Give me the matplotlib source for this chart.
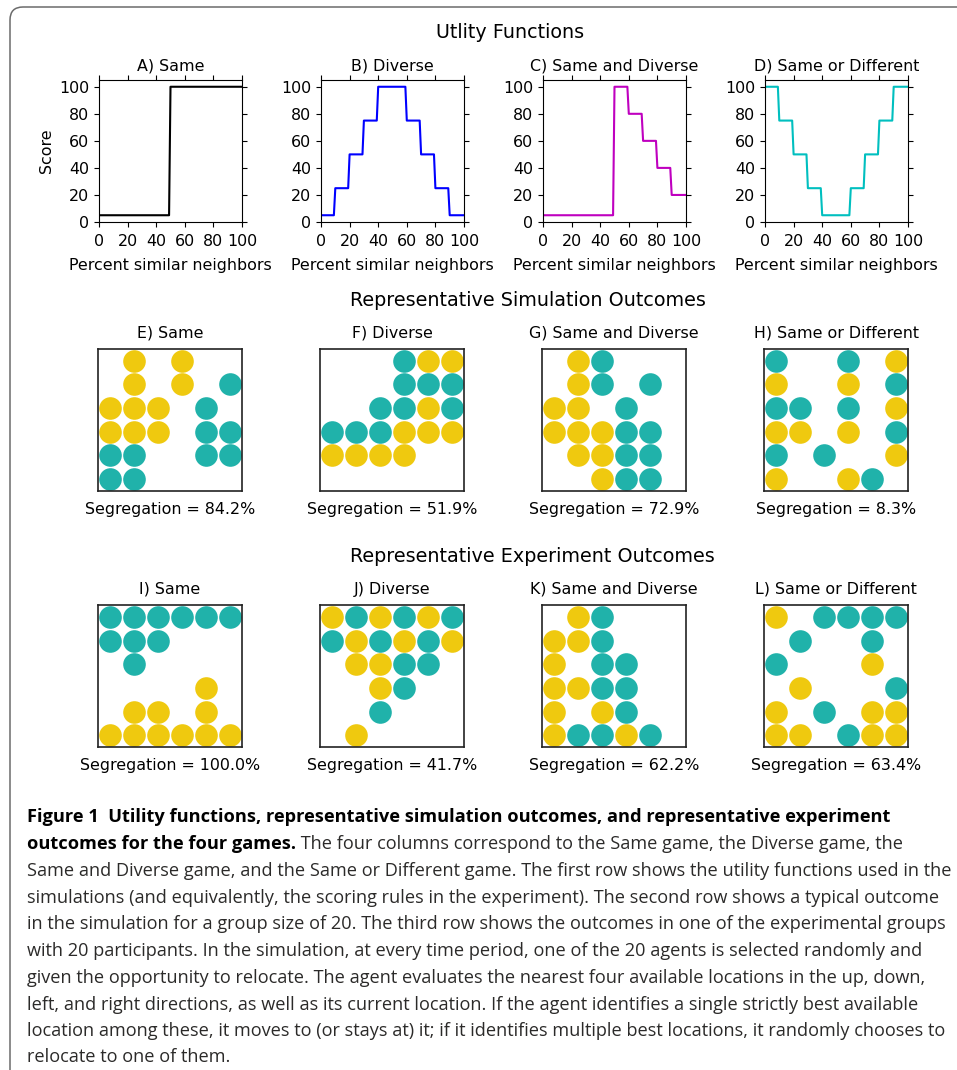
import matplotlib
matplotlib.use("Agg")
import matplotlib.pyplot as plt
from matplotlib.patches import FancyBboxPatch

x_same = [0, 49, 50, 100]
y_same = [5, 5, 100, 100]
x_diverse = [0, 9, 10, 19, 20, 29, 30, 39, 40, 59, 60, 69, 70, 79, 80, 89, 90, 100]
y_diverse = [5, 5, 25, 25, 50, 50, 75, 75, 100, 100, 75, 75, 50, 50, 25, 25, 5, 5]
x_same_div = [0, 49, 50, 59, 60, 69, 70, 79, 80, 89, 90, 100]
y_same_div = [5, 5, 100, 100, 80, 80, 60, 60, 40, 40, 20, 20]
x_same_diff = [0, 9, 10, 19, 20, 29, 30, 39, 40, 59, 60, 69, 70, 79, 80, 89, 90, 100]
y_same_diff = [100, 100, 75, 75, 50, 50, 25, 25, 5, 5, 25, 25, 50, 50, 75, 75, 100, 100]

util_titles = ["A) Same", "B) Diverse", "C) Same and Diverse", "D) Same or Different"]
util_colors = ["k", "b", "m", "c"]

# boards, top row first: Y = yellow, T = teal, . = empty
sim_titles = ["E) Same", "F) Diverse", "G) Same and Diverse", "H) Same or Different"]
sim_boards = [
    [".Y.Y..", ".Y.Y.T", "YYY.T.", "YYY.TT", "TT..TT", "TT...."],
    ["...TYY", "...TTT", "..TTYT", "TTTYYY", "YYYY..", "......"],
    [".YT...", ".YT.T.", "YY.T..", "YYYTT.", ".YYTT.", "..YTT."],
    ["T..T.Y", "Y..Y.T", "TT.T.Y", "YY.Y.T", "T.T..Y", "Y..YT."],
]
sim_seg = [84.2, 51.9, 72.9, 8.3]

exp_titles = ["I) Same", "J) Diverse", "K) Same and Diverse", "L) Same or Different"]
exp_boards = [
    ["TTTTTT", "TTT...", ".T....", "....Y.", ".YY.Y.", "YYYYYY"],
    ["YTYTYT", "TYTYTY", ".YYTT.", "..YT..", "..T...", ".Y...."],
    [".YT...", "YYT...", "Y.TT..", "YYTT..", "Y.YT..", "YTTYT."],
    ["Y.TTTT", ".T..T.", "T...Y.", ".Y...T", "Y.T.YY", "YY.TYY"],
]
exp_seg = [100.0, 41.7, 62.2, 63.4]

YELLOW = "#efc90f"
TEAL = "#20b2aa"

W, H = 957, 1070
plt.rcParams["font.family"] = ["DejaVu Sans"]
plt.rcParams["font.size"] = 10
fig = plt.figure(figsize=(W / 100, H / 100), dpi=100)
FS = 11.4
HEAD = 13.8


def px_axes(left, top, width, height):
    return fig.add_axes([left / W, 1 - (top + height) / H, width / W, height / H])


col_left = [99, 321, 543, 765]

# row 1: utility functions
util_x = [x_same, x_diverse, x_same_div, x_same_diff]
util_y = [y_same, y_diverse, y_same_div, y_same_diff]
for i in range(4):
    ax = px_axes(col_left[i], 80, 143, 142)
    ax.plot(util_x[i], util_y[i], color=util_colors[i], lw=1.5)
    ax.set_xlim(0, 100)
    ax.set_ylim(0, 105)
    ax.set_xticks([0, 20, 40, 60, 80, 100])
    ax.set_yticks([0, 20, 40, 60, 80, 100])
    ax.tick_params(top=True, right=True, labelsize=FS)
    ax.tick_params(axis="x", pad=5.5)
    ax.set_title(util_titles[i], fontsize=FS, pad=7)
    ax.set_xlabel("Percent similar neighbors", fontsize=FS, labelpad=6)
    if i == 0:
        ax.set_ylabel("Score", fontsize=FS)


def draw_board(ax, board):
    for color_key, color in (("Y", YELLOW), ("T", TEAL)):
        xs, ys = [], []
        for r, row in enumerate(board):
            for c, ch in enumerate(row):
                if ch == color_key:
                    xs.append(c)
                    ys.append(5 - r)
        ax.scatter(xs, ys, s=265, color=color, linewidths=0)
    ax.set_xlim(-0.5, 5.5)
    ax.set_ylim(-0.5, 5.5)
    ax.set_xticks([])
    ax.set_yticks([])
    for sp in ax.spines.values():
        sp.set_linewidth(1.2)
        sp.set_color("#222222")


for i in range(4):
    ax = px_axes(col_left[i] - 1, 349, 144, 142)
    draw_board(ax, sim_boards[i])
    ax.set_title(sim_titles[i], fontsize=FS, pad=8)
    ax.set_xlabel(f"Segregation = {sim_seg[i]:.1f}%", fontsize=FS, labelpad=8)

    ax = px_axes(col_left[i] - 1, 605, 144, 142)
    draw_board(ax, exp_boards[i])
    ax.set_title(exp_titles[i], fontsize=FS, pad=8)
    ax.set_xlabel(f"Segregation = {exp_seg[i]:.1f}%", fontsize=FS, labelpad=8)

fig.text(510 / W, 1 - 32 / H, "Utlity Functions", ha="center", va="center", fontsize=HEAD)
fig.text(528 / W, 1 - 300 / H, "Representative Simulation Outcomes", ha="center", va="center", fontsize=HEAD)
fig.text(532 / W, 1 - 556 / H, "Representative Experiment Outcomes", ha="center", va="center", fontsize=HEAD)

# caption
cap_font = "Open Sans"
cap_size = 13.1
cap_color = "#2b2a29"
x0 = 27 / W
line_y = [817, 844, 871, 898, 924, 951, 978, 1005, 1031, 1057]
fig.text(x0, 1 - line_y[0] / H,
         "Figure 1  Utility functions, representative simulation outcomes, and representative experiment",
         family=cap_font, weight="bold", fontsize=13.15, va="center", color="black")
bold2 = fig.text(x0, 1 - line_y[1] / H, "outcomes for the four games.",
                 family=cap_font, weight="bold", fontsize=13.15, va="center", color="black")
caption_lines = [
    "Same and Diverse game, and the Same or Different game. The first row shows the utility functions used in the",
    "simulations (and equivalently, the scoring rules in the experiment). The second row shows a typical outcome",
    "in the simulation for a group size of 20. The third row shows the outcomes in one of the experimental groups",
    "with 20 participants. In the simulation, at every time period, one of the 20 agents is selected randomly and",
    "given the opportunity to relocate. The agent evaluates the nearest four available locations in the up, down,",
    "left, and right directions, as well as its current location. If the agent identifies a single strictly best available",
    "location among these, it moves to (or stays at) it; if it identifies multiple best locations, it randomly chooses to",
    "relocate to one of them.",
]
for ln, yy in zip(caption_lines, line_y[2:]):
    fig.text(x0, 1 - yy / H, ln, family=cap_font, fontsize=cap_size, va="center", color=cap_color)

# place the regular part of line 2 right after the bold part
fig.canvas.draw()
bb = bold2.get_window_extent()
fig.text(bb.x1 / W, 1 - line_y[1] / H,
         " The four columns correspond to the Same game, the Diverse game, the",
         family=cap_font, fontsize=cap_size, va="center", color=cap_color)

# frame around the figure (only the top-left corner shows)
frame = FancyBboxPatch((0.10, -1.0), 20, 1.0 + (H - 7) / 100,
                       boxstyle="round,pad=0,rounding_size=0.13",
                       transform=fig.dpi_scale_trans, fill=False,
                       edgecolor="#6b6b6b", lw=1.1)
fig.patches.append(frame)

fig.savefig("out.png", dpi=100)
